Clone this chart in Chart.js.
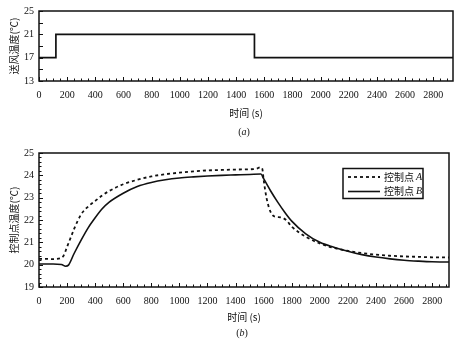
<!DOCTYPE html>
<html>
<head>
<meta charset="utf-8">
<script src="https://cdn.jsdelivr.net/npm/chart.js@4/dist/chart.umd.min.js"></script>
<style>
  html, body { margin:0; padding:0; background:#fff; }
  #wrap { position:relative; width:460px; height:343px; overflow:hidden; }
  canvas { position:absolute; left:0; }
  .cap { position:absolute; font-family:'Liberation Serif', serif; font-size:10px; color:#111; transform:translateX(-50%); line-height:12px; }
</style>
</head>
<body>
<div id="wrap">
  <canvas id="ca" width="460" height="142" style="top:0"></canvas>
  <canvas id="cb" width="460" height="201" style="top:142px"></canvas>
  <div class="cap" style="left:244px; top:126px;">(<i>a</i>)</div>
  <div class="cap" style="left:242px; top:327px;">(<i>b</i>)</div>
</div>
<script>
// ---- tick labels ----
const xTicks = [0, 200, 400, 600, 800, 1000, 1200, 1400, 1600, 1800, 2000, 2200, 2400, 2600, 2800];
const yTicksA = [13, 15, 17, 19, 21, 23, 25];
const yTicksB = [19, 20, 21, 22, 23, 24, 25];

// ---- data (a): supply-air temperature step ----
const stepTime = [0, 120, 120, 1530, 1530, 2940];
const stepTemp = [17, 17, 21, 21, 17, 17];

// ---- data (b): control-point temperatures ----
const timeA = [0, 50, 100, 150, 175, 200, 225, 250, 300, 350, 400, 450, 500, 600, 700, 800, 900, 1000, 1100, 1200, 1300, 1400, 1500, 1550, 1575, 1590, 1600, 1620, 1650, 1680, 1720, 1760, 1800, 1850, 1900, 2000, 2100, 2200, 2300, 2400, 2500, 2600, 2700, 2800, 2920];
const tempA = [20.26, 20.26, 20.25, 20.28, 20.4, 20.8, 21.2, 21.6, 22.25, 22.6, 22.85, 23.1, 23.3, 23.6, 23.8, 23.95, 24.05, 24.12, 24.18, 24.22, 24.24, 24.26, 24.27, 24.3, 24.36, 24.3, 23.8, 23.0, 22.35, 22.15, 22.12, 22.0, 21.7, 21.45, 21.25, 20.95, 20.75, 20.62, 20.52, 20.45, 20.4, 20.37, 20.35, 20.33, 20.32];
const timeB = [0, 100, 160, 190, 210, 250, 300, 350, 400, 450, 500, 600, 700, 800, 900, 1000, 1100, 1200, 1300, 1400, 1500, 1580, 1600, 1650, 1700, 1750, 1800, 1900, 2000, 2100, 2200, 2300, 2400, 2500, 2600, 2700, 2800, 2920];
const tempB = [20.03, 20.03, 20.01, 19.93, 19.98, 20.5, 21.1, 21.65, 22.1, 22.5, 22.8, 23.2, 23.5, 23.68, 23.8, 23.88, 23.93, 23.97, 24.0, 24.02, 24.04, 24.06, 23.85, 23.3, 22.8, 22.35, 21.95, 21.38, 21.0, 20.78, 20.6, 20.45, 20.34, 20.26, 20.2, 20.16, 20.13, 20.12];

const labelA = '控制点 A';
const labelB = '控制点 B';
const yTitleA = '送风温度(℃)';
const yTitleB = '控制点温度(℃)';
const xTitle = '时间 (s)';

const pts = (xs, ys) => xs.map((x, i) => ({x, y: ys[i]}));

const serif = "'Liberation Serif', 'Times New Roman', serif";
const cjk = "'Noto Sans CJK SC', sans-serif";
const ink = '#111';

// frame + inward minor ticks
const framePlugin = {
  id: 'frame',
  afterDatasetsDraw(chart, args, opts) {
    const {ctx, chartArea: a, scales: {x, y}} = chart;
    ctx.save();
    ctx.strokeStyle = ink;
    ctx.lineWidth = 1;
    ctx.beginPath();
    for (let v = x.min; v <= x.max + 1e-6; v += opts.xMinor) {
      const px = Math.round(x.getPixelForValue(v)) + 0.5;
      const len = (Math.abs(v % opts.xMajor) < 1e-6) ? 4 : 2.5;
      ctx.moveTo(px, a.bottom);
      ctx.lineTo(px, a.bottom - len);
    }
    for (let k = 0; ; k++) {
      const v = y.min + k * opts.yMinor;
      if (v > y.max + 1e-6) break;
      const py = Math.round(y.getPixelForValue(v)) + 0.5;
      const r = (v - y.min) / opts.yMajor;
      const len = Math.abs(r - Math.round(r)) < 1e-6 ? 4 : 2.5;
      ctx.moveTo(a.left, py);
      ctx.lineTo(a.left + len, py);
    }
    ctx.stroke();
    ctx.lineWidth = 1.5;
    ctx.strokeRect(a.left, a.top, a.right - a.left, a.bottom - a.top);
    ctx.restore();
  }
};

// boxed legend inside plot (b)
const boxLegend = {
  id: 'boxLegend',
  afterDraw(chart, args, opts) {
    if (!opts.show) return;
    const {ctx, chartArea: a} = chart;
    const bx = a.right - 106, by = a.top + 15.5, bw = 80, bh = 30;
    ctx.save();
    ctx.fillStyle = '#fff';
    ctx.fillRect(bx, by, bw, bh);
    ctx.strokeStyle = ink;
    ctx.lineWidth = 1.5;
    ctx.strokeRect(bx, by, bw, bh);
    chart.data.datasets.forEach((ds, i) => {
      const cy = by + 8.5 + i * 14.5;
      ctx.strokeStyle = ds.borderColor;
      ctx.lineWidth = ds.borderWidth;
      ctx.setLineDash(ds.borderDash || []);
      ctx.beginPath();
      ctx.moveTo(bx + 5, cy);
      ctx.lineTo(bx + 37, cy);
      ctx.stroke();
      ctx.setLineDash([]);
      const parts = ds.label.split(' ');
      ctx.fillStyle = ink;
      ctx.textBaseline = 'middle';
      ctx.font = '10px ' + cjk;
      ctx.fillText(parts[0], bx + 41, cy);
      const w = ctx.measureText(parts[0]).width;
      ctx.font = 'italic 10px ' + serif;
      ctx.fillText(parts[1], bx + 43 + w, cy);
    });
    ctx.restore();
  }
};

function xScale(max, titlePad, height) {
  return {
    type: 'linear', min: 0, max: max,
    grid: { display: false, drawTicks: false, tickLength: 0 },
    border: { display: false },
    ticks: { autoSkip: false, maxRotation: 0, padding: 8, color: ink, font: { family: serif, size: 10 },
      callback: v => String(v) },
    afterBuildTicks: s => { s.ticks = xTicks.map(v => ({ value: v })); },
    afterFit: s => { s.height = height; },
    title: { display: true, text: xTitle, color: ink, font: { family: cjk, size: 10 }, padding: { top: 0, bottom: titlePad } }
  };
}
function yScale(min, max, tickVals, text) {
  return {
    type: 'linear', min, max,
    grid: { display: false, drawTicks: false, tickLength: 0 },
    border: { display: false },
    ticks: { padding: 5, color: ink, font: { family: serif, size: 10 }, callback: v => String(v) },
    afterBuildTicks: s => { s.ticks = tickVals.map(v => ({ value: v })); },
    afterFit: s => { s.width = 39; },
    title: { display: true, text, color: ink, font: { family: cjk, size: 10 }, padding: { top: 8, bottom: 0 } }
  };
}

Chart.defaults.animation = false;

new Chart(document.getElementById('ca'), {
  type: 'line',
  data: { datasets: [{
    label: yTitleA,
    data: pts(stepTime, stepTemp),
    borderColor: ink, borderWidth: 1.7, pointRadius: 0, tension: 0, fill: false
  }]},
  options: {
    responsive: false, devicePixelRatio: 1,
    layout: { padding: { top: 9, right: 7, left: 0, bottom: 0 } },
    plugins: { legend: { display: false }, tooltip: { enabled: false },
      frame: { xMinor: 50, xMajor: 200, yMinor: 2, yMajor: 2 }, boxLegend: { show: false } },
    scales: { x: xScale(2940, 23, 61), y: yScale(13, 25, yTicksA, yTitleA) }
  },
  plugins: [framePlugin, boxLegend]
});

new Chart(document.getElementById('cb'), {
  type: 'line',
  data: { datasets: [
    { label: labelA, data: pts(timeA, tempA), borderColor: ink, borderWidth: 1.8, borderDash: [3, 3],
      pointRadius: 0, tension: 0.4, cubicInterpolationMode: 'monotone', fill: false },
    { label: labelB, data: pts(timeB, tempB), borderColor: ink, borderWidth: 1.6,
      pointRadius: 0, tension: 0.4, cubicInterpolationMode: 'monotone', fill: false }
  ]},
  options: {
    responsive: false, devicePixelRatio: 1,
    layout: { padding: { top: 10.5, right: 11, left: 0, bottom: 0 } },
    plugins: { legend: { display: false }, tooltip: { enabled: false },
      frame: { xMinor: 50, xMajor: 200, yMinor: 0.2, yMajor: 1 }, boxLegend: { show: true } },
    scales: { x: xScale(2920, 20, 56), y: yScale(19, 25, yTicksB, yTitleB) }
  },
  plugins: [framePlugin, boxLegend]
});
</script>
</body>
</html>
